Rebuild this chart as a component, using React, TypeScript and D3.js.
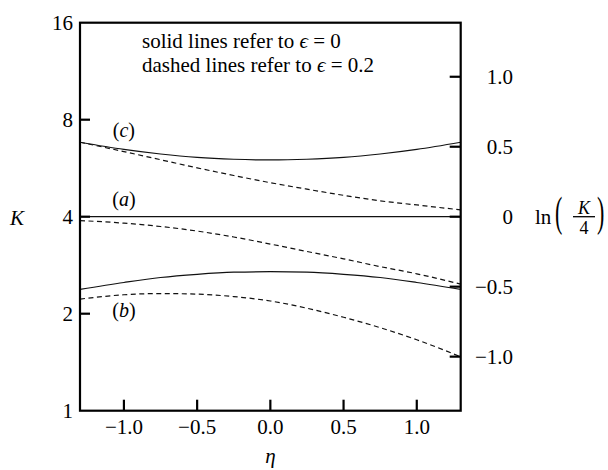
import React from 'react';
import * as d3 from 'd3';

// ==== data

const etas = [-1.3, -1.0, -0.75, -0.5, -0.25, 0, 0.25, 0.5, 0.75, 1.0, 1.3];

const cSolid = [6.81, 6.47, 6.26, 6.11, 6.03, 6.0, 6.03, 6.11, 6.26, 6.47, 6.81];
const cDashed = [6.81, 6.37, 6.01, 5.67, 5.37, 5.1, 4.87, 4.66, 4.48, 4.35, 4.2];
const aSolid = [4, 4, 4, 4, 4, 4, 4, 4, 4, 4, 4];
const aDashed = [3.89, 3.82, 3.73, 3.61, 3.46, 3.29, 3.12, 2.96, 2.8, 2.66, 2.47];
const bSolid = [2.38, 2.5, 2.59, 2.65, 2.69, 2.7, 2.69, 2.65, 2.59, 2.5, 2.38];
const bDashed = [2.22, 2.29, 2.31, 2.3, 2.26, 2.19, 2.08, 1.95, 1.81, 1.66, 1.47];

const kTicks = [1, 2, 4, 8, 16];
const lnTicks = [-1.0, -0.5, 0, 0.5, 1.0];
const etaTicks = [-1.0, -0.5, 0.0, 0.5, 1.0];

const curveLabels = [
    { text: '(c)', eta: -1.0, k: 7.45 },
    { text: '(a)', eta: -1.0, k: 4.55 },
    { text: '(b)', eta: -1.0, k: 2.05 },
];

// ====

const serif = 'Liberation Serif, DejaVu Serif, Times New Roman, serif';
const fmt = (v: number) => (v < 0 ? '\u2212' : '') + Math.abs(v).toFixed(1);

const App = () => {
    const left = 80;
    const right = 460.7;
    const top = 22.7;
    const bottom = 410.7;

    const x = d3.scaleLinear().domain([-1.3, 1.3]).range([left, right]);
    const y = d3.scaleLog().base(2).domain([1, 16]).range([bottom, top]);
    const yLn = (v: number) => y(4 * Math.exp(v));

    const line = d3
        .line<[number, number]>()
        .x((d) => x(d[0]))
        .y((d) => y(d[1]))
        .curve(d3.curveMonotoneX);

    const series = [
        { vals: cSolid, dashed: false },
        { vals: cDashed, dashed: true },
        { vals: aSolid, dashed: false },
        { vals: aDashed, dashed: true },
        { vals: bSolid, dashed: false },
        { vals: bDashed, dashed: true },
    ];

    const y0 = yLn(0);

    return (
        <svg width={608} height={470} style={{ display: 'block', position: 'absolute', left: 0, top: 0, fontFamily: serif }}>
            <rect x={0} y={0} width={608} height={470} fill="white" />

            {series.map((s, i) => (
                <path
                    key={i}
                    d={line(etas.map((e, j) => [e, s.vals[j]] as [number, number])) || ''}
                    fill="none"
                    stroke="#111"
                    strokeWidth={1.2}
                    strokeDasharray={s.dashed ? '5,3.5' : undefined}
                />
            ))}

            <rect x={left} y={top} width={right - left} height={bottom - top} fill="none" stroke="black" strokeWidth={2.2} />

            {/* left axis */}
            {kTicks.map((k) => (
                <g key={'k' + k}>
                    {k > 1 && k < 16 && <line x1={left} x2={left + 10} y1={y(k)} y2={y(k)} stroke="black" strokeWidth={2.2} />}
                    <text x={73} y={y(k)} dy="0.35em" textAnchor="end" fontSize={21}>
                        {k}
                    </text>
                </g>
            ))}
            <text x={17} y={218} dy="0.35em" textAnchor="middle" fontStyle="italic" fontSize={21}>
                K
            </text>

            {/* right axis */}
            {lnTicks.map((v) => (
                <g key={'l' + v}>
                    <line x1={right - 11} x2={right} y1={yLn(v)} y2={yLn(v)} stroke="black" strokeWidth={2.2} />
                    <text x={513} y={yLn(v)} dy="0.35em" textAnchor="end" fontSize={21}>
                        {v === 0 ? '0' : fmt(v)}
                    </text>
                </g>
            ))}
            <g fontSize={21}>
                <text x={535} y={y0} dy="0.35em">ln</text>
                <text transform={`translate(555,${y0 + 9}) scale(1,1.95)`} fontSize={22}>(</text>
                <text x={584} y={y0 - 3} textAnchor="middle" fontStyle="italic" fontSize={18}>K</text>
                <line x1={573} x2={595} y1={y0} y2={y0} stroke="black" strokeWidth={1.3} />
                <text x={584} y={y0 + 17} textAnchor="middle" fontSize={18}>4</text>
                <text transform={`translate(597,${y0 + 9}) scale(1,1.95)`} fontSize={22}>)</text>
            </g>

            {/* bottom axis */}
            {etaTicks.map((e) => (
                <g key={'e' + e}>
                    <line x1={x(e)} x2={x(e)} y1={bottom} y2={bottom - 11} stroke="black" strokeWidth={2.2} />
                    <text x={x(e)} y={433.5} textAnchor="middle" fontSize={21}>
                        {fmt(e)}
                    </text>
                </g>
            ))}
            <text x={x(0)} y={463} textAnchor="middle" fontStyle="italic" fontSize={21}>
                η
            </text>

            {/* curve labels */}
            {curveLabels.map((l) => (
                <text key={l.text} x={x(l.eta)} y={y(l.k)} dy="0.35em" textAnchor="middle" fontSize={20}>
                    (<tspan fontStyle="italic">{l.text[1]}</tspan>)
                </text>
            ))}

            {/* note */}
            <g fontSize={21}>
                <text x={142} y={48}>
                    solid lines refer to <tspan fontStyle="italic">ϵ</tspan> = 0
                </text>
                <text x={142} y={72}>
                    dashed lines refer to <tspan fontStyle="italic">ϵ</tspan> = 0.2
                </text>
            </g>
        </svg>
    );
};

export default App;
